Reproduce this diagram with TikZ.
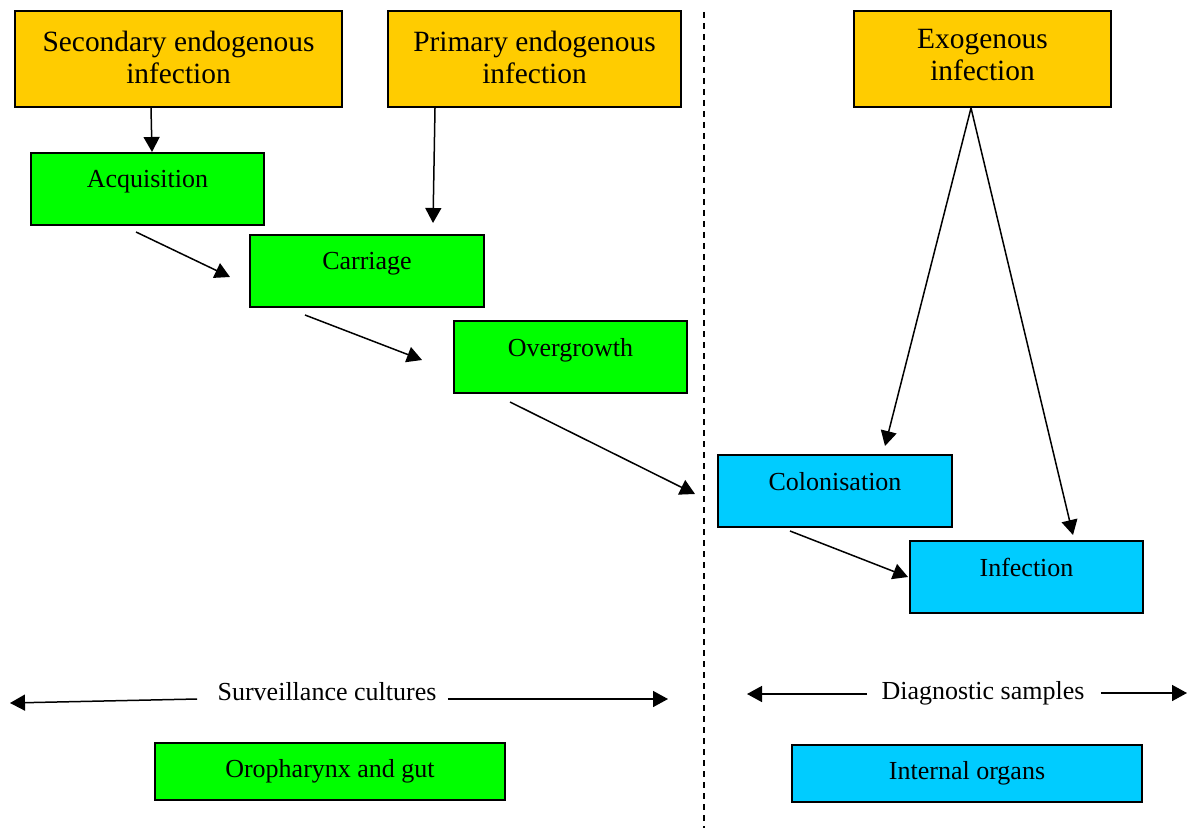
\documentclass[tikz,border=0pt]{standalone}
\usepackage{fontspec}
\setmainfont{Liberation Serif}
\usetikzlibrary{arrows.meta,calc}
\definecolor{orangeY}{HTML}{FFCC00}
\definecolor{greenB}{HTML}{00FF00}
\definecolor{cyanB}{HTML}{00CCFF}
\begin{document}
\begin{tikzpicture}[x=0.5pt,y=-0.5pt,
 box/.style={draw=black,line width=1pt,inner sep=0pt,anchor=north west},
 obox/.style={box,fill=orangeY,minimum height=48pt},
 gbox/.style={box,fill=greenB,minimum height=36pt},
 cbox/.style={box,fill=cyanB,minimum height=36pt},
 big/.style={font=\fontsize{14.7}{16}\selectfont,align=center,inner sep=0pt},
 lbl/.style={font=\fontsize{13}{15}\selectfont,anchor=base,inner sep=0pt},
 arr/.style={-{Triangle[length=7.5pt,width=8pt]},line width=0.75pt},
 sep/.style={dashed,dash pattern=on 3pt off 2.5pt,line width=0.75pt}
]
\useasboundingbox (0,0) rectangle (1197,828);

% top orange boxes
\node[obox,minimum width=163.5pt] (sec) at (14,10) {};
\node[big] at ($(sec.center)+(0,-2)$) {Secondary endogenous\\infection};
\node[obox,minimum width=146.5pt] (prim) at (387,10) {};
\node[big] at ($(prim.center)+(0,-2)$) {Primary endogenous\\infection};
\node[obox,minimum width=128.5pt] (exo) at (853,10) {};
\node[big] at ($(exo.center)+(0,-4)$) {Exogenous\\infection};

% green boxes
\node[gbox,minimum width=116.5pt] (acq) at (30,152) {};
\node[lbl] at ($(acq.north)+(0,36)$) {Acquisition};
\node[gbox,minimum width=117pt] (car) at (249,234) {};
\node[lbl] at ($(car.north)+(0,36)$) {Carriage};
\node[gbox,minimum width=116.5pt] (ovg) at (453,320) {};
\node[lbl] at ($(ovg.north)+(0,36)$) {Overgrowth};

% cyan boxes
\node[cbox,minimum width=117pt] (col) at (717,454) {};
\node[lbl] at ($(col.north)+(0,36)$) {Colonisation};
\node[cbox,minimum width=116.5pt] (inf) at (909,540) {};
\node[lbl] at ($(inf.north)+(0,36)$) {Infection};

% bottom boxes
\node[box,fill=greenB,minimum width=175pt,minimum height=28.5pt] (oro) at (154,742) {};
\node[lbl,anchor=center] at (oro.center) {Oropharynx and gut};
\node[box,fill=cyanB,minimum width=175pt,minimum height=28.5pt] (intl) at (791,744) {};
\node[lbl,anchor=center] at (intl.center) {Internal organs};

% dashed separator
\coordinate (dt) at (704,12);
\coordinate (db) at (704,828);
\draw[sep] (dt) -- (db);

% arrows
\draw[arr] ($(sec.south)+(-27.5,0)$) -- ($(acq.north)+(4.5,0)$);
\draw[arr] ($(prim.south)+(-99.5,0)$) -- ($(car.north)+(66,-11)$);
\draw[arr] ($(acq.south west)+(106,6)$) -- ($(car.north west)+(-19,43)$);
\draw[arr] ($(car.south west)+(56,7)$) -- ($(ovg.north west)+(-31,40)$);
\draw[arr] ($(ovg.south west)+(57,8)$) -- ($(col.north west)+(-22,40)$);
\draw[arr] ($(col.south west)+(73,3)$) -- ($(inf.north west)+(-1,37)$);
\draw[arr] ($(exo.south)+(-11.5,0)$) -- ($(col.north)+(50,-8)$);
\draw[arr] ($(exo.south)+(-11.5,0)$) -- ($(inf.north)+(46.5,-5)$);

% bottom labels with arrows
\node[lbl,anchor=center] (surv) at (327,692) {Surveillance cultures};
\coordinate (sl) at (10,703);
\coordinate (sr) at (668,699);
\draw[arr] ($(surv.west)+(-20,7)$) -- (sl);
\draw[arr] ($(surv.east)+(11,7)$) -- (sr);

\node[lbl,anchor=center] (diag) at (983,693) {Diagnostic samples};
\coordinate (dl) at (747,694);
\coordinate (dr) at (1187,693);
\draw[arr] ($(diag.west)+(-14,1)$) -- (dl);
\draw[arr] ($(diag.east)+(16,0)$) -- (dr);
\end{tikzpicture}
\end{document}
